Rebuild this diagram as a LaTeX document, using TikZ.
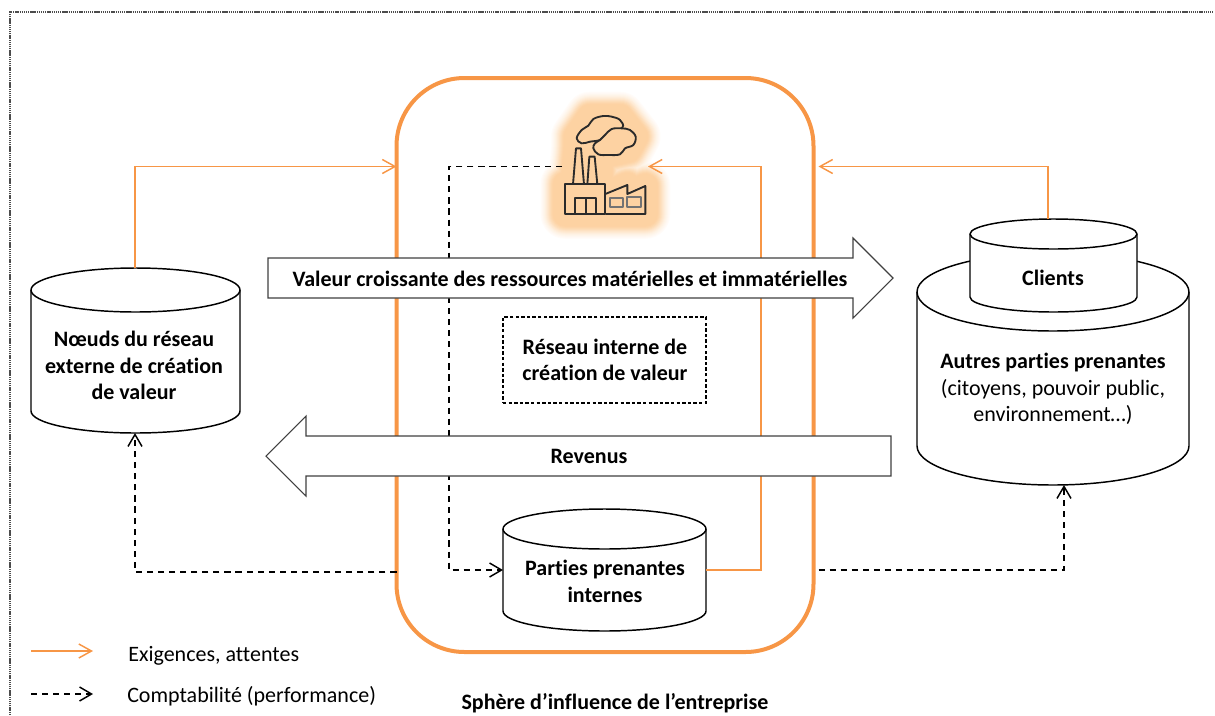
\documentclass[tikz,border=0pt]{standalone}
\usepackage{fontspec}
\setmainfont[Ligatures=NoCommon]{Carlito}
\usetikzlibrary{arrows.meta,calc}
\definecolor{orgline}{HTML}{F79646}
\definecolor{glowc}{HTML}{FDD2A2}
\definecolor{inkc}{HTML}{2B2B2B}
\tikzset{
  lbl/.style={font=\fontsize{16.5}{20}\selectfont,align=center,inner sep=0pt},
  blbl/.style={lbl,font=\fontsize{16.5}{20}\selectfont\bfseries},
  oarrow/.style={orgline,line width=1.1pt,-{Straight Barb[length=9.5pt,width=10.5pt,line width=1.1pt]}},
  darrow/.style={black,line width=1.1pt,dash pattern=on 4.6pt off 3.7pt,-{Straight Barb[length=9pt,width=10.5pt,line width=1.1pt]}},
  cylbox/.style={inner sep=0pt,outer sep=0pt},
  cylline/.style={draw=black,line width=1.1pt,line join=round},
  bigbox/.style={inner sep=0pt,outer sep=0pt,minimum height=40*.75pt},
  bigline/.style={draw=black!75,fill=white,line width=.8pt},
  fac/.style={inkc,line width=1.4pt,line join=round},
}
% name, centre, width, height, cap half height
\newcommand{\cylnode}[5]{%
  \node[cylbox,minimum width=#3*.75pt,minimum height=#4*.75pt] (#1) at #2 {};
  \draw[cylline,fill=white] ($(#1.north west)+(0,#5)$) arc[start angle=180,end angle=0,x radius=#3/2*.75pt,y radius=#5*.75pt]
     -- ($(#1.south east)+(0,-#5)$) arc[start angle=0,end angle=-180,x radius=#3/2*.75pt,y radius=#5*.75pt] -- cycle;
  \draw[cylline] ($(#1.north west)+(0,#5)$) arc[start angle=180,end angle=360,x radius=#3/2*.75pt,y radius=#5*.75pt];
}
\begin{document}
\begin{tikzpicture}[x=.75pt,y=-.75pt]
\useasboundingbox (0,0) rectangle (1215,715);
% frame
\coordinate (f0) at (10,715); \coordinate (f1) at (10,12); \coordinate (f2) at (1213,12);
\draw[black!70,line width=.9pt,dash pattern=on 1pt off .6pt] (f0) -- (f1) -- (f2);
% sphere
\node[draw=orgline,line width=3pt,rounded corners=68*.75pt,minimum width=417*.75pt,minimum height=574*.75pt,inner sep=0pt,outer sep=0pt] (sph) at (605,365) {};
% factory glow
\begin{scope}[shift={(500,70)},x=.25pt,y=-.25pt]
\def\sil{(196,432)--(196,343)--(219,343)--(228,235)--(228,200)--(270,140)--(360,140)--(407,200)--(385,240)--(320,255)--(300,255)--(300,343)--(316,372)--(382,345)--(382,372)--(436,348)--(436,432)--cycle}
\foreach \w/\m in {25/5,24/10,23/15,22/21,21/28,20/36,19/45,18/54,17/64,16/74,15/83,14/91,13/97,12/100}{
  \draw[glowc!\m!white,fill=glowc!\m!white,line join=round,line width=\w*1.5pt] \sil;
}
\end{scope}
\coordinate (facL) at (562,166.5);
\coordinate (facR) at (648,166.5);
% cylinders
\cylnode{nr}{(135.5,350.5)}{209}{165}{22}
\cylnode{ap}{(1053,369)}{272}{232}{39}
\cylnode{cl}{(1053.5,265.5)}{167}{93}{15}
\cylnode{pi}{(604.5,570)}{203}{122}{20}
% connectors
\draw[oarrow] ([xshift=-.5*.75pt]nr.north) |- (sph.west |- facL);
\draw[oarrow] ([xshift=-5.5*.75pt]cl.north) |- ([xshift=5*.75pt]sph.east |- facR);
\coordinate (kneeO) at (761,570);
\draw[oarrow] (pi.east |- kneeO) -- (kneeO) |- (facR);
\coordinate (kneeD) at (449,166.5);
\draw[darrow] (facL) -- (kneeD) |- (pi.west |- kneeO);
\coordinate (a1) at (135,572);
\draw[darrow] (sph.west |- a1) -- (a1) -- (a1 |- nr.south);
\coordinate (a2) at (1064,570);
\draw[darrow] ([xshift=5*.75pt]sph.east |- a2) -- (a2) -- (a2 |- ap.south);
% big arrows
\node[bigbox,minimum width=585*.75pt] (av) at (560.5,278) {};
\draw[bigline] (av.north west) -- (av.north east) -- ++(0,-20) -- ++(40,40) -- ++(-40,40) -- (av.south east) -- (av.south west) -- cycle;
\node[bigbox,minimum width=585*.75pt] (ar) at (598.5,456) {};
\draw[bigline] (ar.north east) -- (ar.north west) -- ++(0,-20) -- ++(-40,40) -- ++(40,40) -- (ar.south west) -- (ar.south east) -- cycle;
% inner box
\node[draw=black,line width=1.1pt,dash pattern=on 2.6pt off 1.6pt,minimum width=203*.75pt,minimum height=86*.75pt,inner sep=0pt] (box) at (604.5,360) {};
% factory drawing
\begin{scope}[shift={(500,70)},x=.25pt,y=-.25pt]
\draw[fac] (196,343) rectangle (316,432);
\draw[fac] (226,432) -- (226,385) -- (288,385) -- (288,432) (257,385) -- (257,432);
\draw[fac] (316,372) -- (382,345) -- (382,372) -- (436,348) -- (436,432) -- (316,432);
\draw[fac,black!55] (330,385) rectangle (370,410) (382,382) rectangle (424,410);
\draw[fac] (219,343) -- (228,235) -- (243,235) -- (252,343);
\draw[fac] (262,343) -- (268,260) -- (284,260) -- (292,343);
\draw[fac,fill=glowc] plot[smooth cycle,tension=.6] coordinates {(230,205)(245,180)(265,167)(280,147)(310,138)(335,140)(360,150)(367,173)(320,195)(300,210)(270,215)(245,220)};
\draw[fac,fill=glowc] plot[smooth cycle,tension=.6] coordinates {(280,235)(285,220)(300,210)(315,195)(335,177)(365,175)(390,180)(407,200)(400,225)(375,235)(360,253)(325,255)(295,253)};
\end{scope}
% labels
\node[blbl] (t1) at (570,279) {Valeur croissante des ressources matérielles et immatérielles};
\node[blbl] (t2) at (589,456) {Revenus};
\node[blbl] (t3) at (605,360) {Réseau interne de\\création de valeur};
\node[blbl] (t4) at (134,365.5) {Nœuds du réseau\\externe de création\\de valeur};
\node[blbl] (t5) at (1053,278) {Clients};
\node[lbl] (t6) at (1053,389) {\textbf{Autres parties prenantes}\\(citoyens, pouvoir public,\\environnement…)};
\node[blbl] (t7) at (605,581.5) {Parties prenantes\\internes};
\node[blbl] (t8) at (615,703) {Sphère d’influence de l’entreprise};
% legend
\coordinate (l1a) at (31,651); \coordinate (l1b) at (93,651);
\coordinate (l2a) at (31,694); \coordinate (l2b) at (93,694);
\draw[oarrow] (l1a) -- (l1b);
\draw[darrow] (l2a) -- (l2b);
\node[lbl,anchor=west] (t9) at (128,656) {Exigences, attentes};
\node[lbl,anchor=west] (t10) at (127,696) {Comptabilité (performance)};
\end{tikzpicture}
\end{document}
